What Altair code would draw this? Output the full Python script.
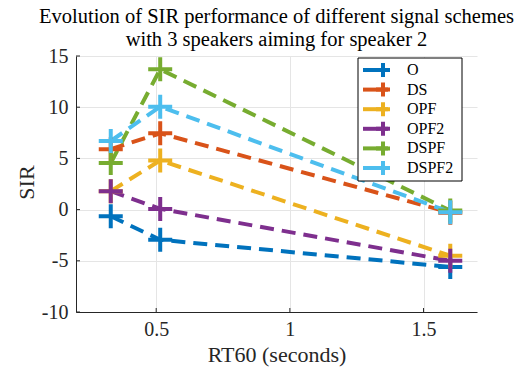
import altair as alt
import pandas as pd

rt60 = [0.33, 0.515, 1.6]
series = ["O", "DS", "OPF", "OPF2", "DSPF", "DSPF2"]
sir = {
    "O": [-0.65, -2.95, -5.6],
    "DS": [5.9, 7.45, -0.3],
    "OPF": [1.8, 4.8, -4.5],
    "OPF2": [1.8, 0.07, -5.0],
    "DSPF": [4.55, 13.7, -0.1],
    "DSPF2": [6.7, 10.05, -0.25],
}
colors = ["#0072BD", "#D95319", "#EDB120", "#7E2F8E", "#77AC30", "#4DBEEE"]
x_ticks = [0.5, 1, 1.5]
y_ticks = [-10, -5, 0, 5, 10, 15]

rows = []
for i, s in enumerate(series):
    for x, y in zip(rt60, sir[s]):
        rows.append({"series": s, "rt60": x, "sir": y})
df = pd.DataFrame(rows)
leg_df = pd.DataFrame({"series": series, "ord": list(range(len(series)))})

FONT = "Liberation Serif"
INK = "#262626"

xs = alt.Scale(domain=[0.2, 1.7], nice=False, zero=False)
ys = alt.Scale(domain=[-10, 15], nice=False, zero=False)
cs = alt.Scale(domain=series, range=colors)
ls = alt.Scale(domain=[0, len(series) - 1], range=[14, 112], nice=False, zero=False)

plus = "M-1,0H1M0,-1V1"

x_enc = alt.X("rt60:Q", scale=xs, title="RT60 (seconds)",
              axis=alt.Axis(values=x_ticks, format="~g", grid=True, ticks=False,
                            labelFont=FONT, labelFontSize=20, labelColor=INK,
                            labelPadding=7, titleFont=FONT, titleFontSize=22,
                            titleFontWeight="normal", titleColor=INK,
                            titleY=49, titleBaseline="alphabetic",
                            domainColor=INK, gridColor="#e5e5e5"))
y_enc = alt.Y("sir:Q", scale=ys, title="SIR",
              axis=alt.Axis(values=y_ticks, grid=True, ticks=False,
                            labelExpr="(datum.value < 0 ? '-' : '') + abs(datum.value)",
                            labelFont=FONT, labelFontSize=20, labelColor=INK,
                            labelPadding=8, titleFont=FONT, titleFontSize=22,
                            titleFontWeight="normal", titleColor=INK,
                            titleX=-43, titleY=126, titleAngle=270,
                            titleBaseline="alphabetic",
                            domainColor=INK, gridColor="#e5e5e5"))

lines = alt.Chart(df).mark_line(strokeWidth=4, strokeDash=[14, 8], strokeCap="butt").encode(
    x=x_enc, y=y_enc,
    color=alt.Color("series:N", scale=cs, sort=series, legend=None),
    order=alt.Order("rt60:Q"),
    detail="series:N",
)

points = alt.Chart(df).mark_point(shape=plus, size=576, strokeWidth=4, filled=False, opacity=1).encode(
    x=alt.X("rt60:Q", scale=xs),
    y=alt.Y("sir:Q", scale=ys, axis=None),
    stroke=alt.Stroke("series:N", scale=cs, sort=series, legend=None),
)

ytick_df = pd.DataFrame({"v": y_ticks})
xtick_df = pd.DataFrame({"v": x_ticks})
yticks = alt.Chart(ytick_df).mark_rule(color=INK, strokeWidth=1).encode(
    y=alt.Y("v:Q", scale=ys, axis=None), x=alt.value(0), x2=alt.value(4))
xticks = alt.Chart(xtick_df).mark_rule(color=INK, strokeWidth=1).encode(
    x=alt.X("v:Q", scale=xs), y=alt.value(256), y2=alt.value(252))

# manual legend (MATLAB style: line with plus marker)
box = alt.Chart(pd.DataFrame({"a": [0]})).mark_rect(
    fill="white", stroke="black", strokeWidth=1).encode(
    x=alt.value(282), x2=alt.value(386), y=alt.value(2), y2=alt.value(125))
leg_lines = alt.Chart(leg_df).mark_rule(strokeWidth=4).encode(
    x=alt.value(287), x2=alt.value(312),
    y=alt.Y("ord:Q", scale=ls, axis=None),
    color=alt.Color("series:N", scale=cs, legend=None))
leg_plus = alt.Chart(leg_df).mark_point(shape=plus, size=196, strokeWidth=4,
                                        filled=False, opacity=1).encode(
    x=alt.value(307),
    y=alt.Y("ord:Q", scale=ls, axis=None),
    stroke=alt.Stroke("series:N", scale=cs, legend=None))
leg_text = alt.Chart(leg_df).mark_text(align="left", baseline="middle", font=FONT,
                                       fontSize=16, color="black").encode(
    x=alt.value(331),
    y=alt.Y("ord:Q", scale=ls, axis=None),
    text="series:N")

chart = alt.layer(lines, points, yticks, xticks, box, leg_lines, leg_plus, leg_text).resolve_scale(
    y="independent"
).properties(
    width=401, height=256,
    autosize=alt.AutoSizeParams(type="none"),
    padding={"left": 76, "top": 56, "right": 49, "bottom": 56},
    title=alt.TitleParams(
        text=["Evolution of SIR performance of different signal schemes",
              "with 3 speakers aiming for speaker 2"],
        font=FONT, fontSize=20.5, fontWeight="normal", color="black",
        anchor="middle", frame="group", offset=9, dy=13, lineHeight=22.5),
).configure_view(stroke=None)

chart.save("out.html", embed_options={"renderer": "svg", "actions": False})
